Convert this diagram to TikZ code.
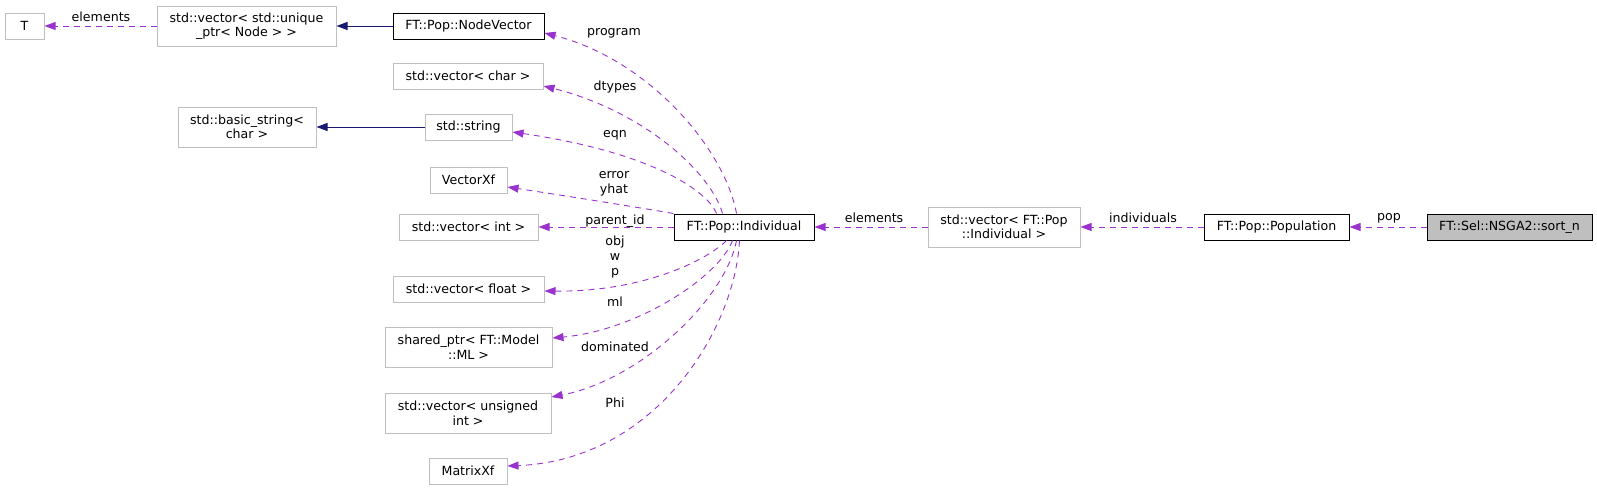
\documentclass[tikz,border=0pt]{standalone}
\usepackage{fontspec}
\setmainfont{DejaVu Sans}
\usetikzlibrary{arrows.meta,calc}
\definecolor{edgep}{HTML}{9A32CD}
\definecolor{inhc}{HTML}{191970}
\definecolor{gb}{HTML}{BFBFBF}
\definecolor{selfill}{HTML}{BFBFBF}
\begin{document}
\begin{tikzpicture}[x=1pt,y=-1pt,
  base/.style={fill=white, line width=1pt, inner sep=0pt, align=center,
    font=\fontsize{12.6}{14.5}\selectfont, minimum height=26pt},
  gbox/.style={base, draw=gb},
  dbox/.style={base, draw=black},
  selbox/.style={base, draw=black, fill=selfill},
  two/.style={minimum height=40pt},
  lbl/.style={inner sep=0pt, align=center, font=\fontsize{12.6}{15}\selectfont},
  dep/.style={draw=edgep, line width=0.9pt, dash pattern=on 6pt off 5pt,
    -{Triangle[length=11pt,width=8pt,fill=edgep]}},
  inh/.style={draw=inhc, line width=1pt, -{Triangle[length=11pt,width=8pt,fill=inhc]}}
]
\useasboundingbox (0,0) rectangle (1597,490);

% nodes
\node[gbox, minimum width=39pt] (T) at (24.5,26) {T};
\node[gbox, two, minimum width=179pt] (up) at (246.5,26) {std::vector< std::unique\\\_ptr< Node > >};
\node[dbox, minimum width=151pt] (nv) at (468.5,26) {FT::Pop::NodeVector};
\node[gbox, minimum width=150pt] (vchar) at (468,76) {std::vector< char >};
\node[gbox, two, minimum width=138pt] (bstr) at (247,127) {std::basic\_string<\\char >};
\node[gbox, minimum width=87pt] (str) at (468.5,127) {std::string};
\node[gbox, minimum width=77pt] (vxf) at (468.5,180) {VectorXf};
\node[gbox, minimum width=139pt] (vint) at (468.5,227) {std::vector< int >};
\node[gbox, minimum width=151pt] (vfloat) at (468.5,289) {std::vector< float >};
\node[gbox, two, minimum width=167pt] (sp) at (468.5,347) {shared\_ptr< FT::Model\\::ML >};
\node[gbox, two, minimum width=166pt] (vuns) at (468,413) {std::vector< unsigned\\int >};
\node[gbox, minimum width=78pt] (mxf) at (468,471) {MatrixXf};
\node[dbox, minimum width=140pt] (ind) at (744,227) {FT::Pop::Individual};
\node[gbox, two, minimum width=152pt] (vind) at (1004,227) {std::vector< FT::Pop\\::Individual >};
\node[dbox, minimum width=145pt] (pop) at (1276.5,227) {FT::Pop::Population};
\node[selbox, minimum width=165pt] (sortn) at (1509.5,227) {FT::Sel::NSGA2::sort\_n};

% inheritance edges
\draw[inh] (nv.west) -- (up.east);
\draw[inh] (str.west) -- (bstr.east);

% usage edges
\draw[dep] (up.west) -- (T.east);
\draw[dep] ($(ind.north west)+(63,0)$) .. controls (725,150) and (650,60) .. ($(nv.east)+(0,7)$);
\draw[dep] ($(ind.north west)+(49,0)$) .. controls (710,170) and (640,110) .. ($(vchar.east)+(0,10)$);
\draw[dep] ($(ind.north west)+(43,0)$) .. controls (708,192) and (655,153) .. ($(str.east)+(0,5)$);
\draw[dep] (ind.north west) .. controls (630,206) and (560,195) .. ($(vxf.east)+(0,7)$);
\draw[dep] (ind.west) -- (vint.east);
\draw[dep] ($(ind.south west)+(53,0)$) .. controls (705,262) and (640,292) .. ($(vfloat.east)+(0,2)$);
\draw[dep] ($(ind.south west)+(59,0)$) .. controls (720,275) and (640,330) .. ($(sp.east)+(0,-9)$);
\draw[dep] ($(ind.south west)+(63,0)$) .. controls (725,300) and (640,380) .. ($(vuns.east)+(0,-16)$);
\draw[dep] ($(ind.south west)+(66,0)$) .. controls (735,330) and (655,460) .. ($(mxf.east)+(0,-5)$);
\draw[dep] (vind.west) -- (ind.east);
\draw[dep] (pop.west) -- (vind.east);
\draw[dep] (sortn.west) -- (pop.east);

% labels
\node[lbl] (l1) at (101,17) {elements};
\node[lbl] (l2) at (614,33) {program};
\node[lbl] (l3) at (615,87) {dtypes};
\node[lbl] (l4) at (615,135) {eqn};
\node[lbl] (l5) at (614,184) {error\\yhat};
\node[lbl] (l6) at (615,221) {parent\_id};
\node[lbl] (l7) at (615,257) {obj\\w\\p};
\node[lbl] (l8) at (615,302) {ml};
\node[lbl] (l9) at (615,347) {dominated};
\node[lbl] (l10) at (615,403) {Phi};
\node[lbl] (l11) at (874,218) {elements};
\node[lbl] (l12) at (1143,218) {individuals};
\node[lbl] (l13) at (1389,218) {pop};
\end{tikzpicture}
\end{document}
